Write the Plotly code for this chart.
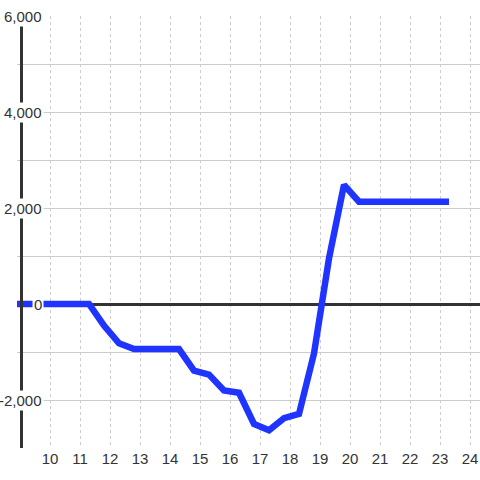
import plotly.graph_objects as go

x_vals = [8.8, 9.3, 9.8, 10.3, 10.8, 11.3, 11.8, 12.3, 12.8, 13.3, 13.8, 14.3,
          14.8, 15.3, 15.8, 16.3, 16.8, 17.3, 17.8, 18.3, 18.8, 19.3, 19.8, 20.3,
          20.8, 21.3, 21.8, 22.3, 22.8, 23.3]
y_vals = [0, 0, 0, 0, 0, 0, -450, -820, -940, -940, -940, -940,
          -1390, -1470, -1800, -1850, -2500, -2630, -2380, -2290, -1030, 950, 2480, 2130,
          2130, 2130, 2130, 2130, 2130, 2130]
x_ticks = list(range(10, 25))
y_label_vals = [-2000, 0, 2000, 4000, 6000]
y_label_text = ["-2,000", "0", "2,000", "4,000", "6,000"]

FONT = "Liberation Sans, Arial, sans-serif"
PW = 463  # plot width in px

fig = go.Figure()
fig.add_trace(go.Scatter(x=x_vals, y=y_vals, mode="lines",
                         line=dict(color="#1f35ff", width=6.5), hoverinfo="skip"))

for v, t in zip(y_label_vals, y_label_text):
    fig.add_annotation(xref="paper", yref="y", x=(44 - 17) / PW, y=v,
                       text=t, showarrow=False, xanchor="right", yanchor="middle",
                       bgcolor="white", borderpad=1,
                       font=dict(family=FONT, size=15, color="#333"))

fig.update_layout(
    width=480, height=480,
    margin=dict(l=17, r=0, t=16, b=32, autoexpand=False),
    paper_bgcolor="white", plot_bgcolor="white",
    showlegend=False,
    xaxis=dict(range=[8.9, 8.9 + PW / 30], tickmode="array", tickvals=x_ticks,
               showgrid=True, gridcolor="#cccccc", gridwidth=1, griddash="dot",
               zeroline=False, showline=False, ticks="", automargin=False,
               tickfont=dict(family=FONT, size=15, color="#333")),
    yaxis=dict(range=[-3000, 6000], dtick=1000, tick0=0,
               showgrid=True, gridcolor="#cccccc", gridwidth=1,
               zeroline=True, zerolinecolor="#333333", zerolinewidth=3,
               showline=True, linecolor="#333333", linewidth=3,
               anchor="free", position=3.5 / PW, automargin=False,
               showticklabels=False, ticks=""),
)

fig.write_html("out.html", config={"displayModeBar": False},
               post_script="document.body.style.margin='0';document.body.style.padding='0';")
